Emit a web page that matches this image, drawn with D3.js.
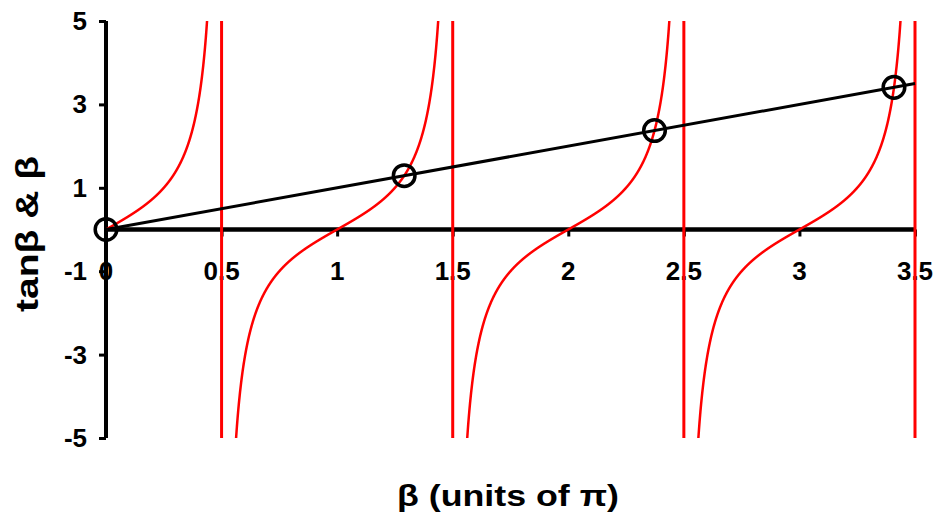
<!DOCTYPE html>
<html>
<head>
<meta charset="utf-8">
<script src="https://cdn.jsdelivr.net/npm/d3@7/dist/d3.min.js"></script>
<style>
  html, body { margin: 0; padding: 0; background: #fff; }
  svg { display: block; }
  text { font-family: "Liberation Sans", Arial, sans-serif; font-weight: bold; fill: #000; }
</style>
</head>
<body>
<svg id="chart" width="936" height="515"></svg>
<script>
// Axis ticks (β in units of π on x, value on y)
const xTicks = [0, 0.5, 1, 1.5, 2, 2.5, 3, 3.5];
const xTickLabels = ["0", "0.5", "1", "1.5", "2", "2.5", "3", "3.5"];
const yTicks = [5, 3, 1, -1, -3, -5];
const yTickLabels = ["5", "3", "1", "-1", "-3", "-5"];

// Branch edges of tanβ (asymptotes at odd multiples of π/2)
const branchStart = [0, 0.5, 1.5, 2.5];
const branchEnd = [0.5, 1.5, 2.5, 3.5];
const asymptotes = [0.5, 1.5, 2.5, 3.5];

// Straight line y = β
const lineX = [0, 3.5];
const lineY = [0, 3.5];

// Solutions of tanβ = β
const rootX = [0, 1.290, 2.373, 3.409];
const rootY = [0, 1.290, 2.373, 3.409];

const svg = d3.select("#chart");
const x = d3.scaleLinear().domain([0, 3.5]).range([106, 915]);
const y = d3.scaleLinear().domain([-5, 5]).range([438, 21]);

svg.append("defs").append("clipPath").attr("id", "plot")
  .append("rect")
  .attr("x", x(0)).attr("y", y(5))
  .attr("width", x(3.5) - x(0) + 4).attr("height", y(-5) - y(5));

// Axes
const yAxis = d3.axisLeft(y).tickValues(yTicks).tickSize(7).tickFormat("");
const gy = svg.append("g").attr("transform", `translate(${x(0)},0)`).call(yAxis);
gy.select(".domain").attr("d", `M0,${y(5)}V${y(-5)}`).attr("stroke", "#000").attr("stroke-width", 4);
gy.selectAll(".tick line").attr("stroke", "#000").attr("stroke-width", 3);

const xAxis = d3.axisBottom(x).tickValues(xTicks).tickSize(7).tickFormat("");
const gx = svg.append("g").attr("transform", `translate(0,${y(0)})`).call(xAxis);
gx.select(".domain").attr("d", `M${x(0)},0H${x(3.5)}`).attr("stroke", "#000").attr("stroke-width", 4.5);
gx.selectAll(".tick line").attr("stroke", "#000").attr("stroke-width", 3);

// Tick labels
svg.append("g").selectAll("text").data(yTicks).join("text")
  .attr("x", 87).attr("y", d => y(d) + 9)
  .attr("text-anchor", "end").attr("font-size", 26)
  .text((d, i) => yTickLabels[i]);

svg.append("g").selectAll("text").data(xTicks).join("text")
  .attr("x", d => x(d)).attr("y", 280)
  .attr("text-anchor", "middle").attr("font-size", 26)
  .text((d, i) => xTickLabels[i]);

// Curves and asymptotes
const plot = svg.append("g").attr("clip-path", "url(#plot)");

plot.selectAll("line.asym").data(asymptotes).join("line")
  .attr("class", "asym")
  .attr("x1", d => x(d)).attr("x2", d => x(d))
  .attr("y1", y(5)).attr("y2", y(-5))
  .attr("stroke", "#ff0000").attr("stroke-width", 3);

const tanLine = d3.line().x(d => x(d[0])).y(d => y(d[1]));
branchStart.forEach((a, i) => {
  const b = branchEnd[i];
  const pts = d3.range(a, b, 0.0005)
    .map(t => [t, Math.tan(Math.PI * t)])
    .filter(p => Math.abs(p[1]) <= 7);
  plot.append("path").datum(pts)
    .attr("d", tanLine)
    .attr("fill", "none").attr("stroke", "#ff0000").attr("stroke-width", 2.5);
});

svg.append("path")
  .datum(lineX.map((v, i) => [v, lineY[i]]))
  .attr("d", tanLine)
  .attr("fill", "none").attr("stroke", "#000").attr("stroke-width", 3);

svg.append("g").selectAll("circle").data(rootX).join("circle")
  .attr("cx", d => x(d)).attr("cy", (d, i) => y(rootY[i]))
  .attr("r", 10.8)
  .attr("fill", "none").attr("stroke", "#000").attr("stroke-width", 3.5);

// Axis titles
svg.append("text")
  .attr("x", 508).attr("y", 506)
  .attr("text-anchor", "middle").attr("font-size", 30)
  .attr("textLength", 222).attr("lengthAdjust", "spacingAndGlyphs")
  .text("β (units of π)");

svg.append("text")
  .attr("transform", "translate(38,234) rotate(-90)")
  .attr("text-anchor", "middle").attr("font-size", 32)
  .attr("textLength", 156).attr("lengthAdjust", "spacingAndGlyphs")
  .text("tanβ & β");
</script>
</body>
</html>
